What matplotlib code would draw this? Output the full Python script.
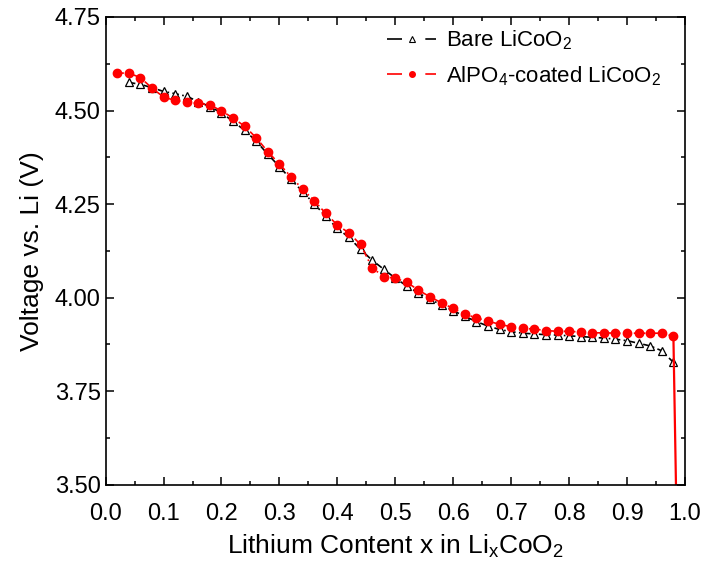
import matplotlib
matplotlib.use("Agg")
import matplotlib.pyplot as plt
from matplotlib.lines import Line2D
from matplotlib.ticker import MultipleLocator

plt.rcParams['font.family'] = ['Liberation Sans', 'DejaVu Sans']
plt.rcParams['mathtext.fontset'] = 'custom'
plt.rcParams['mathtext.rm'] = 'Liberation Sans'
plt.rcParams['mathtext.it'] = 'Liberation Sans'

# ---- data ----
bare_x = [0.04, 0.06, 0.08, 0.10, 0.12, 0.14, 0.16, 0.18, 0.20, 0.22, 0.24, 0.26,
          0.28, 0.30, 0.32, 0.34, 0.36, 0.38, 0.40, 0.42, 0.44, 0.46, 0.48, 0.50,
          0.52, 0.54, 0.56, 0.58, 0.60, 0.62, 0.64, 0.66, 0.68, 0.70, 0.72, 0.74,
          0.76, 0.78, 0.80, 0.82, 0.84, 0.86, 0.88, 0.90, 0.92, 0.94, 0.96, 0.98]
bare_v = [4.575, 4.570, 4.561, 4.551, 4.545, 4.538, 4.524, 4.510, 4.494, 4.471,
          4.447, 4.418, 4.383, 4.350, 4.316, 4.283, 4.251, 4.217, 4.185, 4.161,
          4.129, 4.100, 4.076, 4.052, 4.031, 4.012, 3.996, 3.980, 3.965, 3.950,
          3.936, 3.924, 3.915, 3.909, 3.905, 3.903, 3.901, 3.900, 3.898, 3.896,
          3.894, 3.892, 3.889, 3.885, 3.878, 3.871, 3.858, 3.827]

coated_x = [0.02, 0.04, 0.06, 0.08, 0.10, 0.12, 0.14, 0.16, 0.18, 0.20, 0.22, 0.24,
            0.26, 0.28, 0.30, 0.32, 0.34, 0.36, 0.38, 0.40, 0.42, 0.44, 0.46, 0.48,
            0.50, 0.52, 0.54, 0.56, 0.58, 0.60, 0.62, 0.64, 0.66, 0.68, 0.70, 0.72,
            0.74, 0.76, 0.78, 0.80, 0.82, 0.84, 0.86, 0.88, 0.90, 0.92, 0.94, 0.96,
            0.98]
coated_v = [4.600, 4.600, 4.588, 4.560, 4.536, 4.527, 4.522, 4.519, 4.515, 4.499,
            4.480, 4.458, 4.427, 4.390, 4.357, 4.323, 4.290, 4.259, 4.225, 4.194,
            4.173, 4.142, 4.080, 4.056, 4.052, 4.041, 4.020, 4.002, 3.986, 3.971,
            3.956, 3.946, 3.937, 3.929, 3.922, 3.918, 3.916, 3.912, 3.910, 3.910,
            3.908, 3.906, 3.906, 3.905, 3.905, 3.905, 3.905, 3.905, 3.897]
# end of discharge: sharp voltage drop of the coated cell
drop_x = [0.98, 0.99]
drop_v = [3.897, 3.0]

labels = [r'Bare LiCo$\mathregular{O_2}$', r'AlP$\mathregular{O_4}$-coated LiCo$\mathregular{O_2}$']

fig = plt.figure(figsize=(7.04, 5.65), dpi=100)
ax = fig.add_axes([0.150, 0.142, 0.823, 0.828])

ax.plot(bare_x, bare_v, color='black', lw=1.2, ls=(0, (4, 2, 1, 2)),
        marker='^', ms=6, mfc='white', mec='black', mew=0.9)
ax.plot(drop_x, drop_v, color='red', lw=1.6, ls='-')
ax.plot(coated_x, coated_v, color='red', lw=1.2, ls=(0, (4, 2, 1, 2)),
        marker='o', ms=6, mfc='red', mec='red')

ax.set_xlim(0, 1.0)
ax.set_ylim(3.5, 4.75)
ax.xaxis.set_major_locator(MultipleLocator(0.1))
ax.xaxis.set_minor_locator(MultipleLocator(0.05))
ax.yaxis.set_major_locator(MultipleLocator(0.25))
ax.yaxis.set_minor_locator(MultipleLocator(0.125))
ax.xaxis.set_major_formatter(matplotlib.ticker.FormatStrFormatter('%.1f'))
ax.yaxis.set_major_formatter(matplotlib.ticker.FormatStrFormatter('%.2f'))
ax.tick_params(which='both', direction='in', top=True, right=True, width=1.1,
               labelsize=17)
ax.tick_params(which='major', length=6)
ax.tick_params(which='minor', length=3)
ax.tick_params(axis='x', pad=13)
for s in ax.spines.values():
    s.set_linewidth(1.2)

ax.set_xlabel(r'Lithium Content x in Li$\mathregular{_x}$CoO$\mathregular{_2}$', fontsize=19, labelpad=6)
ax.set_ylabel('Voltage vs. Li (V)', fontsize=19, labelpad=8)

h1 = Line2D([], [], color='black', lw=1.2, dashes=(9, 14), marker='^', ms=4,
            mfc='white', mec='black', mew=0.8)
h2 = Line2D([], [], color='red', lw=1.2, dashes=(9, 14), marker='o', ms=4,
            mfc='red', mec='red')
ax.legend([h1, h2], labels, loc='upper left', bbox_to_anchor=(0.475, 0.99),
          frameon=False, fontsize=16, handlelength=2.2, handletextpad=0.45,
          labelspacing=0.55, borderpad=0.3, borderaxespad=0)

fig.savefig('out.png', dpi=100)
